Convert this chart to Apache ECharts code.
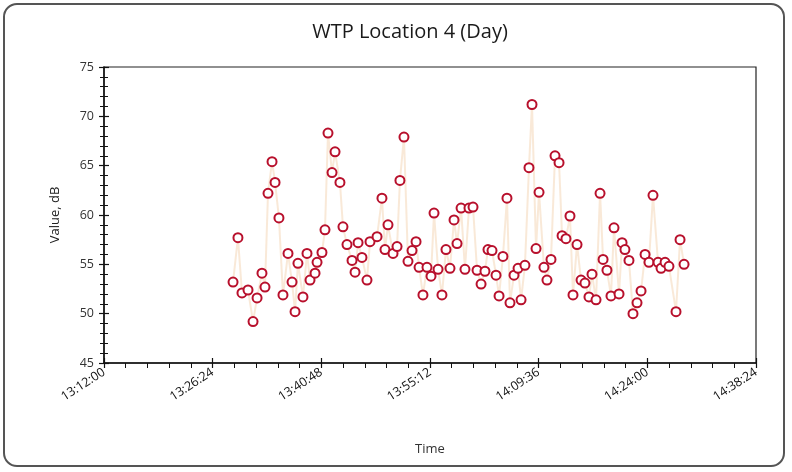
<!DOCTYPE html>
<html><head><meta charset="utf-8">
<script src="https://cdn.jsdelivr.net/npm/echarts@6/dist/echarts.min.js"></script>
<style>
html,body{margin:0;padding:0;background:#fff;}
#frame{position:absolute;left:3px;top:3px;width:782px;height:464px;border:2px solid #555;border-radius:14px;box-sizing:border-box;}
#chart{position:absolute;left:0;top:0;width:792px;height:472px;}
</style></head>
<body>
<div id="frame"></div>
<div id="chart"></div>
<script>
const titleText = "WTP Location 4 (Day)";
const xAxisName = "Time";
const yAxisName = "Value, dB";
const times = ["13:29:06","13:29:45","13:30:17","13:31:05","13:31:45","13:32:17","13:32:56","13:33:20","13:33:44","13:34:16",
"13:34:40","13:35:11","13:35:43","13:36:23","13:36:55","13:37:19","13:37:42","13:38:22","13:38:54","13:39:18",
"13:39:58","13:40:14","13:40:53","13:41:17","13:41:41","13:42:13","13:42:37","13:43:16","13:43:40","13:44:12",
"13:44:52","13:45:16","13:45:40","13:46:11","13:46:51","13:47:15","13:48:11","13:48:50","13:49:14","13:49:38",
"13:50:18","13:50:50","13:51:13","13:51:45","13:52:17","13:52:49","13:53:21","13:53:45","13:54:16","13:54:48",
"13:55:20","13:55:44","13:56:16","13:56:47","13:57:19","13:57:51","13:58:23","13:58:47","13:59:19","13:59:50",
"14:00:22","14:00:54","14:01:26","14:01:58","14:02:29","14:02:53","14:03:25","14:03:57","14:04:21","14:04:52",
"14:05:24","14:05:48","14:06:20","14:06:52","14:07:16","14:07:47","14:08:19","14:08:43","14:09:15","14:09:39",
"14:10:18","14:10:42","14:11:14","14:11:46","14:12:18","14:12:42","14:13:13","14:13:45","14:14:09","14:14:41",
"14:15:13","14:15:44","14:16:16","14:16:40","14:17:12","14:17:44","14:18:08","14:18:39","14:19:11","14:19:35",
"14:20:15","14:20:39","14:21:02","14:21:34","14:22:06","14:22:38","14:23:10","14:23:42","14:24:13","14:24:45",
"14:25:25","14:25:49","14:26:21","14:26:52","14:27:48","14:28:20","14:28:52"];
const values = [53.2,57.7,52.1,52.4,49.2,51.6,54.1,52.7,62.2,65.4,
63.3,59.7,51.9,56.1,53.2,50.2,55.1,51.7,56.1,53.4,
54.1,55.2,56.2,58.5,68.3,64.3,66.4,63.3,58.8,57.0,
55.4,54.2,57.2,55.7,53.4,57.3,57.8,61.7,56.5,59.0,
56.1,56.8,63.5,67.9,55.3,56.4,57.3,54.7,51.9,54.7,
53.8,60.2,54.5,51.9,56.5,54.6,59.5,57.1,60.7,54.5,
60.7,60.8,54.4,53.0,54.3,56.5,56.4,53.9,51.8,55.8,
61.7,51.1,53.9,54.6,51.4,54.9,64.8,71.2,56.6,62.3,
54.7,53.4,55.5,66.0,65.3,57.9,57.6,59.9,51.9,57.0,
53.4,53.1,51.7,54.0,51.4,62.2,55.5,54.4,51.8,58.7,
52.0,57.2,56.5,55.4,50.0,51.1,52.3,56.0,55.2,62.0,
55.2,54.6,55.2,54.8,50.2,57.5,55.0];
const xMin = "13:12:00", xMax = "14:38:24", xStep = 864;
const yMin = 45, yMax = 75, yStep = 5;

function toSec(s){const p=s.split(':').map(Number);return p[0]*3600+p[1]*60+p[2];}
function fmt(v){v=Math.round(v);const h=Math.floor(v/3600),m=Math.floor(v%3600/60),s=v%60;
  const z=n=>(n<10?'0':'')+n;return h+':'+z(m)+':'+z(s);}
const data = times.map((t,i)=>[toSec(t), values[i]]);
const font = "'Open Sans', 'Liberation Sans', sans-serif";
const chart = echarts.init(document.getElementById('chart'), null, {renderer:'canvas'});
const xCommon = {type:'value', min:toSec(xMin), max:toSec(xMax), interval:xStep};
chart.setOption({
  animation:false,
  title:{text:titleText, left:405, top:17, textAlign:'center',
    textStyle:{fontFamily:font, fontSize:20, fontWeight:'normal', color:'#1a1a1a'}},
  grid:{left:104, right:36, top:67, bottom:109, show:true, borderColor:'#222', borderWidth:1.2, backgroundColor:'transparent'},
  xAxis:[Object.assign({}, xCommon, {
    name:xAxisName, nameLocation:'middle', nameGap:80,
    nameTextStyle:{fontFamily:font, fontSize:13, color:'#333'},
    axisLine:{show:true, onZero:false, lineStyle:{color:'#111', width:1.5}},
    axisTick:{show:true, length:5, lineStyle:{color:'#111', width:1.2}},
    minorTick:{show:true, splitNumber:5, length:5, lineStyle:{color:'#111', width:1}},
    splitLine:{show:false},
    axisLabel:{rotate:33, fontFamily:font, fontSize:12.5, color:'#111', margin:8, formatter:fmt, showMinLabel:true, showMaxLabel:true}
  }), Object.assign({}, xCommon, {
    position:'bottom', axisLine:{show:false}, axisLabel:{show:false}, splitLine:{show:false},
    axisTick:{show:true, inside:true, length:5, lineStyle:{color:'#111', width:1.2}},
    minorTick:{show:false}
  })],
  yAxis:[{type:'value', min:yMin, max:yMax, interval:yStep,
    name:yAxisName, nameLocation:'middle', nameGap:42, nameRotate:90,
    nameTextStyle:{fontFamily:font, fontSize:13, color:'#222'},
    axisLine:{show:true, onZero:false, lineStyle:{color:'#111', width:1.5}},
    axisTick:{show:true, length:5, lineStyle:{color:'#111', width:1.2}},
    minorTick:{show:true, splitNumber:5, length:4, lineStyle:{color:'#111', width:1}},
    splitLine:{show:false},
    axisLabel:{fontFamily:font, fontSize:12.5, color:'#333', margin:10}
  },{type:'value', min:yMin, max:yMax, interval:yStep, position:'left',
    axisLine:{show:false}, axisLabel:{show:false}, splitLine:{show:false},
    axisTick:{show:true, inside:true, length:5, lineStyle:{color:'#111', width:1.2}},
    minorTick:{show:true, splitNumber:5, length:4, lineStyle:{color:'#111', width:1}}
  }],
  series:[{type:'line', data:data, xAxisIndex:0, yAxisIndex:0,
    lineStyle:{color:'#f1cfa8', width:2, opacity:0.45},
    symbol:'circle', symbolSize:9, showAllSymbol:true,
    itemStyle:{color:'#ffffff', borderColor:'#b8102c', borderWidth:2}
  }]
});
</script>
</body></html>
